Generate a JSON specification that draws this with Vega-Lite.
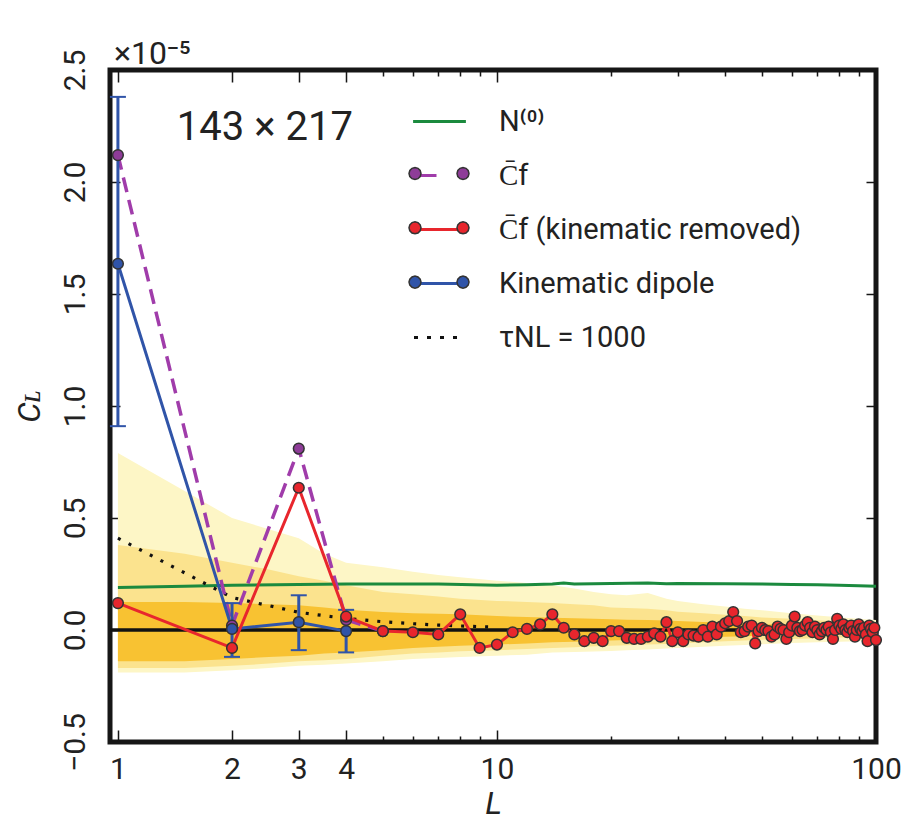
{
  "$schema": "https://vega.github.io/schema/vega-lite/v6.json",
  "width": 766,
  "height": 672,
  "autosize": {"type": "none"},
  "padding": {"left": 110, "top": 70, "right": 26, "bottom": 96},
  "background": "white",
  "config": {
    "view": {"stroke": "#161616", "strokeWidth": 5},
    "font": "Roboto",
    "axis": {"labelFont": "Roboto", "titleFont": "Roboto", "labelColor": "#222222", "titleColor": "#222222"}
  },
  "title": {"text": "×10⁻⁵", "anchor": "start", "frame": "group", "fontSize": 32, "fontWeight": "normal", "font": "Roboto", "color": "#222222", "offset": -22, "dx": 4},
  "datasets": {
    "bands": [
      {"L": 1, "hi3": 0.79, "hi2": 0.38, "hi1": 0.125, "lo1": -0.14, "lo2": -0.17, "lo3": -0.19},
      {"L": 1.5, "hi3": 0.62, "hi2": 0.34, "hi1": 0.125, "lo1": -0.14, "lo2": -0.17, "lo3": -0.19},
      {"L": 2, "hi3": 0.5, "hi2": 0.3, "hi1": 0.12, "lo1": -0.13, "lo2": -0.16, "lo3": -0.18},
      {"L": 2.5, "hi3": 0.45, "hi2": 0.27, "hi1": 0.115, "lo1": -0.12, "lo2": -0.15, "lo3": -0.17},
      {"L": 3, "hi3": 0.41, "hi2": 0.24, "hi1": 0.11, "lo1": -0.115, "lo2": -0.14, "lo3": -0.16},
      {"L": 3.5, "hi3": 0.34, "hi2": 0.22, "hi1": 0.1, "lo1": -0.105, "lo2": -0.135, "lo3": -0.155},
      {"L": 4, "hi3": 0.3, "hi2": 0.2, "hi1": 0.09, "lo1": -0.1, "lo2": -0.13, "lo3": -0.15},
      {"L": 5, "hi3": 0.28, "hi2": 0.17, "hi1": 0.08, "lo1": -0.09, "lo2": -0.115, "lo3": -0.14},
      {"L": 6, "hi3": 0.26, "hi2": 0.16, "hi1": 0.075, "lo1": -0.08, "lo2": -0.105, "lo3": -0.13},
      {"L": 7, "hi3": 0.245, "hi2": 0.15, "hi1": 0.072, "lo1": -0.075, "lo2": -0.1, "lo3": -0.125},
      {"L": 8, "hi3": 0.235, "hi2": 0.14, "hi1": 0.07, "lo1": -0.07, "lo2": -0.095, "lo3": -0.12},
      {"L": 10, "hi3": 0.22, "hi2": 0.13, "hi1": 0.062, "lo1": -0.065, "lo2": -0.09, "lo3": -0.115},
      {"L": 12, "hi3": 0.21, "hi2": 0.125, "hi1": 0.058, "lo1": -0.06, "lo2": -0.085, "lo3": -0.11},
      {"L": 14, "hi3": 0.2, "hi2": 0.12, "hi1": 0.055, "lo1": -0.055, "lo2": -0.08, "lo3": -0.1},
      {"L": 16, "hi3": 0.185, "hi2": 0.115, "hi1": 0.053, "lo1": -0.052, "lo2": -0.077, "lo3": -0.098},
      {"L": 18, "hi3": 0.17, "hi2": 0.11, "hi1": 0.05, "lo1": -0.05, "lo2": -0.073, "lo3": -0.096},
      {"L": 20, "hi3": 0.16, "hi2": 0.1, "hi1": 0.048, "lo1": -0.047, "lo2": -0.07, "lo3": -0.094},
      {"L": 22, "hi3": 0.155, "hi2": 0.098, "hi1": 0.046, "lo1": -0.045, "lo2": -0.068, "lo3": -0.09},
      {"L": 25, "hi3": 0.165, "hi2": 0.095, "hi1": 0.045, "lo1": -0.042, "lo2": -0.065, "lo3": -0.087},
      {"L": 28, "hi3": 0.14, "hi2": 0.088, "hi1": 0.042, "lo1": -0.04, "lo2": -0.062, "lo3": -0.083},
      {"L": 30, "hi3": 0.13, "hi2": 0.082, "hi1": 0.04, "lo1": -0.037, "lo2": -0.06, "lo3": -0.08},
      {"L": 35, "hi3": 0.115, "hi2": 0.075, "hi1": 0.036, "lo1": -0.034, "lo2": -0.055, "lo3": -0.075},
      {"L": 40, "hi3": 0.105, "hi2": 0.068, "hi1": 0.032, "lo1": -0.03, "lo2": -0.05, "lo3": -0.07},
      {"L": 45, "hi3": 0.095, "hi2": 0.062, "hi1": 0.029, "lo1": -0.028, "lo2": -0.047, "lo3": -0.067},
      {"L": 50, "hi3": 0.088, "hi2": 0.056, "hi1": 0.026, "lo1": -0.025, "lo2": -0.044, "lo3": -0.064},
      {"L": 60, "hi3": 0.075, "hi2": 0.05, "hi1": 0.023, "lo1": -0.022, "lo2": -0.04, "lo3": -0.058},
      {"L": 70, "hi3": 0.065, "hi2": 0.043, "hi1": 0.02, "lo1": -0.02, "lo2": -0.037, "lo3": -0.055},
      {"L": 80, "hi3": 0.057, "hi2": 0.038, "hi1": 0.018, "lo1": -0.018, "lo2": -0.034, "lo3": -0.052},
      {"L": 90, "hi3": 0.05, "hi2": 0.034, "hi1": 0.016, "lo1": -0.016, "lo2": -0.032, "lo3": -0.05},
      {"L": 100, "hi3": 0.045, "hi2": 0.03, "hi1": 0.015, "lo1": -0.015, "lo2": -0.03, "lo3": -0.048}
    ],
    "err": [
      {"L": 1, "lo": 0.91, "hi": 2.38},
      {"L": 2, "lo": -0.12, "hi": 0.12},
      {"L": 3, "lo": -0.09, "hi": 0.155},
      {"L": 4, "lo": -0.1, "hi": 0.09}
    ],
    "lines": [
      {"s": "N0", "L": 1, "v": 0.19}, {"s": "N0", "L": 1.5, "v": 0.195}, {"s": "N0", "L": 2, "v": 0.2}, {"s": "N0", "L": 3, "v": 0.203},
      {"s": "N0", "L": 4, "v": 0.205}, {"s": "N0", "L": 5, "v": 0.205}, {"s": "N0", "L": 7, "v": 0.205}, {"s": "N0", "L": 10, "v": 0.2},
      {"s": "N0", "L": 12, "v": 0.202}, {"s": "N0", "L": 14, "v": 0.205}, {"s": "N0", "L": 15, "v": 0.21}, {"s": "N0", "L": 16, "v": 0.205},
      {"s": "N0", "L": 18, "v": 0.207}, {"s": "N0", "L": 20, "v": 0.208}, {"s": "N0", "L": 25, "v": 0.21}, {"s": "N0", "L": 28, "v": 0.206},
      {"s": "N0", "L": 30, "v": 0.208}, {"s": "N0", "L": 40, "v": 0.207}, {"s": "N0", "L": 50, "v": 0.205}, {"s": "N0", "L": 60, "v": 0.203},
      {"s": "N0", "L": 70, "v": 0.202}, {"s": "N0", "L": 80, "v": 0.2}, {"s": "N0", "L": 90, "v": 0.198}, {"s": "N0", "L": 100, "v": 0.195},
      {"s": "tau", "L": 1, "v": 0.41}, {"s": "tau", "L": 2, "v": 0.145}, {"s": "tau", "L": 3, "v": 0.079}, {"s": "tau", "L": 4, "v": 0.051},
      {"s": "tau", "L": 5, "v": 0.037}, {"s": "tau", "L": 6, "v": 0.028}, {"s": "tau", "L": 7, "v": 0.022}, {"s": "tau", "L": 8, "v": 0.018},
      {"s": "tau", "L": 9, "v": 0.015}, {"s": "tau", "L": 10, "v": 0.013},
      {"s": "Cf", "L": 1, "v": 2.12}, {"s": "Cf", "L": 2, "v": 0.02}, {"s": "Cf", "L": 3, "v": 0.81}, {"s": "Cf", "L": 4, "v": 0.045}, {"s": "Cf", "L": 5, "v": -0.005},
      {"s": "Kin", "L": 1, "v": 1.635}, {"s": "Kin", "L": 2, "v": 0.005}, {"s": "Kin", "L": 3, "v": 0.035}, {"s": "Kin", "L": 4, "v": -0.005},
      {"s": "Cfk", "L": 1, "v": 0.12}, {"s": "Cfk", "L": 2, "v": -0.08}, {"s": "Cfk", "L": 3, "v": 0.635}, {"s": "Cfk", "L": 4, "v": 0.06},
      {"s": "Cfk", "L": 5, "v": -0.005}, {"s": "Cfk", "L": 6, "v": -0.01}, {"s": "Cfk", "L": 7, "v": -0.02}, {"s": "Cfk", "L": 8, "v": 0.07},
      {"s": "Cfk", "L": 9, "v": -0.08}, {"s": "Cfk", "L": 10, "v": -0.065}, {"s": "Cfk", "L": 11, "v": -0.01}, {"s": "Cfk", "L": 12, "v": 0.005},
      {"s": "Cfk", "L": 13, "v": 0.025}, {"s": "Cfk", "L": 14, "v": 0.07}, {"s": "Cfk", "L": 15, "v": 0.01}, {"s": "Cfk", "L": 16, "v": -0.02},
      {"s": "Cfk", "L": 17, "v": -0.05}, {"s": "Cfk", "L": 18, "v": -0.035}, {"s": "Cfk", "L": 19, "v": -0.05}, {"s": "Cfk", "L": 20, "v": -0.005},
      {"s": "Cfk", "L": 21, "v": -0.005}, {"s": "Cfk", "L": 22, "v": -0.035}, {"s": "Cfk", "L": 23, "v": -0.04}, {"s": "Cfk", "L": 24, "v": -0.04},
      {"s": "Cfk", "L": 25, "v": -0.03}, {"s": "Cfk", "L": 26, "v": -0.015}, {"s": "Cfk", "L": 27, "v": -0.03}, {"s": "Cfk", "L": 28, "v": 0.035},
      {"s": "Cfk", "L": 29, "v": -0.05}, {"s": "Cfk", "L": 30, "v": -0.01}, {"s": "Cfk", "L": 31, "v": -0.05}, {"s": "Cfk", "L": 32, "v": -0.02},
      {"s": "Cfk", "L": 33, "v": -0.025}, {"s": "Cfk", "L": 34, "v": -0.03}, {"s": "Cfk", "L": 35, "v": 0.0}, {"s": "Cfk", "L": 36, "v": -0.03},
      {"s": "Cfk", "L": 37, "v": 0.015}, {"s": "Cfk", "L": 38, "v": -0.02}, {"s": "Cfk", "L": 39, "v": 0.015}, {"s": "Cfk", "L": 40, "v": 0.03},
      {"s": "Cfk", "L": 41, "v": 0.04}, {"s": "Cfk", "L": 42, "v": 0.08}, {"s": "Cfk", "L": 43, "v": 0.04}, {"s": "Cfk", "L": 44, "v": -0.01},
      {"s": "Cfk", "L": 45, "v": -0.005}, {"s": "Cfk", "L": 46, "v": 0.015}, {"s": "Cfk", "L": 47, "v": 0.02}, {"s": "Cfk", "L": 48, "v": -0.06},
      {"s": "Cfk", "L": 49, "v": -0.005}, {"s": "Cfk", "L": 50, "v": 0.01}, {"s": "Cfk", "L": 51, "v": 0.0}, {"s": "Cfk", "L": 52, "v": -0.005},
      {"s": "Cfk", "L": 53, "v": -0.03}, {"s": "Cfk", "L": 54, "v": -0.02}, {"s": "Cfk", "L": 55, "v": 0.015}, {"s": "Cfk", "L": 56, "v": 0.005},
      {"s": "Cfk", "L": 57, "v": 0.0}, {"s": "Cfk", "L": 58, "v": -0.04}, {"s": "Cfk", "L": 59, "v": -0.01}, {"s": "Cfk", "L": 60, "v": 0.02},
      {"s": "Cfk", "L": 61, "v": 0.06}, {"s": "Cfk", "L": 62, "v": 0.01}, {"s": "Cfk", "L": 63, "v": -0.005}, {"s": "Cfk", "L": 64, "v": 0.0},
      {"s": "Cfk", "L": 65, "v": 0.02}, {"s": "Cfk", "L": 66, "v": 0.035}, {"s": "Cfk", "L": 67, "v": 0.01}, {"s": "Cfk", "L": 68, "v": -0.01},
      {"s": "Cfk", "L": 69, "v": 0.015}, {"s": "Cfk", "L": 70, "v": 0.0}, {"s": "Cfk", "L": 71, "v": -0.02}, {"s": "Cfk", "L": 72, "v": -0.005},
      {"s": "Cfk", "L": 73, "v": 0.01}, {"s": "Cfk", "L": 74, "v": 0.0}, {"s": "Cfk", "L": 75, "v": 0.015}, {"s": "Cfk", "L": 76, "v": -0.01},
      {"s": "Cfk", "L": 77, "v": -0.04}, {"s": "Cfk", "L": 78, "v": 0.0}, {"s": "Cfk", "L": 79, "v": 0.05}, {"s": "Cfk", "L": 80, "v": 0.02},
      {"s": "Cfk", "L": 81, "v": 0.005}, {"s": "Cfk", "L": 82, "v": 0.025}, {"s": "Cfk", "L": 83, "v": 0.0}, {"s": "Cfk", "L": 84, "v": -0.01},
      {"s": "Cfk", "L": 85, "v": 0.01}, {"s": "Cfk", "L": 86, "v": 0.02}, {"s": "Cfk", "L": 87, "v": -0.005}, {"s": "Cfk", "L": 88, "v": -0.03},
      {"s": "Cfk", "L": 89, "v": 0.0}, {"s": "Cfk", "L": 90, "v": 0.025}, {"s": "Cfk", "L": 91, "v": 0.005}, {"s": "Cfk", "L": 92, "v": -0.005},
      {"s": "Cfk", "L": 93, "v": 0.01}, {"s": "Cfk", "L": 94, "v": -0.02}, {"s": "Cfk", "L": 95, "v": -0.05}, {"s": "Cfk", "L": 96, "v": 0.02},
      {"s": "Cfk", "L": 97, "v": 0.005}, {"s": "Cfk", "L": 98, "v": -0.01}, {"s": "Cfk", "L": 99, "v": 0.01}, {"s": "Cfk", "L": 100, "v": -0.045}
    ]
  },
  "layer": [
    {
      "data": {"name": "bands"},
      "mark": {"type": "area", "fill": "#fdf6c6", "opacity": 1},
      "encoding": {
        "x": {
          "field": "L", "type": "quantitative",
          "scale": {"type": "log", "domain": [0.953, 100], "nice": false},
          "axis": {
            "values": [1, 2, 3, 4, 5, 6, 7, 8, 9, 10, 20, 30, 40, 50, 60, 70, 80, 90, 100],
            "labelExpr": "indexof([1, 2, 3, 4, 10, 100], datum.value) >= 0 ? format(datum.value, 'd') : ''",
            "labelFontSize": 30, "labelPadding": 12, "labelFlush": false, "labelOverlap": false, "labelBound": false,
            "ticks": false, "tickSize": 0, "domain": false,
            "grid": true, "gridColor": "#161616", "gridWidth": 1.5, "gridOpacity": 1,
            "gridDash": {"condition": {"test": "indexof([1, 2, 3, 4, 10, 100], datum.value) >= 0", "value": [12, 648]}, "value": [6, 660]},
            "title": "L", "titleFontSize": 32, "titleFontStyle": "italic", "titleFontWeight": "normal", "titlePadding": 4
          }
        },
        "y": {
          "field": "lo3", "type": "quantitative",
          "scale": {"domain": [-0.5, 2.5], "nice": false, "zero": false},
          "axis": {
            "values": [-0.5, 0, 0.5, 1, 1.5, 2, 2.5], "format": ".1f",
            "labelAngle": 270, "labelAlign": "center", "labelBaseline": "bottom",
            "labelFontSize": 30, "labelPadding": 20, "labelFlush": false, "labelOverlap": false, "labelBound": false,
            "ticks": false, "tickSize": 0, "domain": false,
            "grid": true, "gridColor": "#161616", "gridWidth": 1.5, "gridOpacity": 1, "gridDash": [10, 746],
            "title": "Cʟ", "titleFontSize": 32, "titleFontStyle": "italic", "titleFontWeight": "normal", "titlePadding": 14
          }
        },
        "y2": {"field": "hi3"}
      }
    },
    {
      "data": {"name": "bands"},
      "mark": {"type": "area", "fill": "#fbe38e", "opacity": 1},
      "encoding": {
        "x": {"field": "L", "type": "quantitative"},
        "y": {"field": "lo2", "type": "quantitative"},
        "y2": {"field": "hi2"}
      }
    },
    {
      "data": {"name": "bands"},
      "mark": {"type": "area", "fill": "#f8c232", "opacity": 1},
      "encoding": {
        "x": {"field": "L", "type": "quantitative"},
        "y": {"field": "lo1", "type": "quantitative"},
        "y2": {"field": "hi1"}
      }
    },
    {
      "data": {"values": [{}]},
      "mark": {"type": "rule", "color": "#111111", "strokeWidth": 3.5},
      "encoding": {"y": {"datum": 0}}
    },
    {
      "data": {"name": "lines"},
      "transform": [{"filter": "datum.s === 'N0'"}],
      "mark": {"type": "line", "strokeWidth": 3},
      "encoding": {
        "x": {"field": "L", "type": "quantitative"},
        "y": {"field": "v", "type": "quantitative"},
        "stroke": {
          "field": "s", "type": "nominal",
          "scale": {"domain": ["N0", "Cf", "Cfk", "Kin", "tau"], "range": ["#1b8a3e", "#a03caa", "#e8262d", "#3054a8", "#111111"]},
          "legend": {
            "orient": "none", "legendX": 298, "legendY": 20, "title": null, "padding": 0,
            "symbolSize": 3600, "symbolStrokeWidth": 3, "labelFontSize": 29, "labelFont": "Roboto", "labelColor": "#222222",
            "labelOffset": 28, "rowPadding": 7, "labelLimit": 500,
            "labelExpr": "datum.value === 'N0' ? 'N\u207d\u2070\u207e' : datum.value === 'Cf' ? 'C\u0304f' : datum.value === 'Cfk' ? 'C\u0304f (kinematic removed)' : datum.value === 'Kin' ? 'Kinematic dipole' : '\u03c4NL = 1000'",
            "encode": {
              "symbols": {
                "update": {
                  "shape": {"signal": "datum.value === 'Cf' ? 'M-0.8,0H-0.1' : datum.value === 'N0' ? 'M-0.88,0H0.88' : datum.value === 'tau' ? 'M-0.85,0H0.85' : 'M-0.8,0H0.8'"},
                  "strokeDash": {"signal": "datum.value === 'tau' ? [4, 9] : [1, 0]"},
                  "strokeWidth": {"value": 3},
                  "fill": {"value": "transparent"},
                  "opacity": {"value": 1}
                }
              }
            }
          }
        }
      }
    },
    {
      "data": {"name": "lines"},
      "transform": [{"filter": "datum.s === 'tau'"}],
      "mark": {"type": "line", "strokeWidth": 3.2, "strokeDash": [3, 9]},
      "encoding": {
        "x": {"field": "L", "type": "quantitative"},
        "y": {"field": "v", "type": "quantitative"},
        "stroke": {"field": "s", "type": "nominal"}
      }
    },
    {
      "data": {"name": "lines"},
      "transform": [{"filter": "datum.s === 'Cf'"}],
      "mark": {"type": "line", "strokeWidth": 3.5, "strokeDash": [15, 8]},
      "encoding": {
        "x": {"field": "L", "type": "quantitative"},
        "y": {"field": "v", "type": "quantitative"},
        "stroke": {"field": "s", "type": "nominal"}
      }
    },
    {
      "data": {"name": "err"},
      "mark": {"type": "rule", "color": "#3054a8", "strokeWidth": 3},
      "encoding": {
        "x": {"field": "L", "type": "quantitative"},
        "y": {"field": "lo", "type": "quantitative"},
        "y2": {"field": "hi"}
      }
    },
    {
      "data": {"name": "err"},
      "mark": {"type": "tick", "orient": "horizontal", "color": "#3054a8", "size": 16, "thickness": 2, "opacity": 1},
      "encoding": {
        "x": {"field": "L", "type": "quantitative"},
        "y": {"field": "lo", "type": "quantitative"}
      }
    },
    {
      "data": {"name": "err"},
      "mark": {"type": "tick", "orient": "horizontal", "color": "#3054a8", "size": 16, "thickness": 2, "opacity": 1},
      "encoding": {
        "x": {"field": "L", "type": "quantitative"},
        "y": {"field": "hi", "type": "quantitative"}
      }
    },
    {
      "data": {"name": "lines"},
      "transform": [{"filter": "datum.s === 'Kin'"}],
      "mark": {"type": "line", "strokeWidth": 3},
      "encoding": {
        "x": {"field": "L", "type": "quantitative"},
        "y": {"field": "v", "type": "quantitative"},
        "stroke": {"field": "s", "type": "nominal"}
      }
    },
    {
      "data": {"name": "lines"},
      "transform": [{"filter": "datum.s === 'Cfk'"}],
      "mark": {"type": "line", "strokeWidth": 3},
      "encoding": {
        "x": {"field": "L", "type": "quantitative"},
        "y": {"field": "v", "type": "quantitative"},
        "stroke": {"field": "s", "type": "nominal"}
      }
    },
    {
      "data": {"name": "lines"},
      "transform": [{"filter": "datum.s === 'Cf' || datum.s === 'Kin' || datum.s === 'Cfk'"}],
      "mark": {"type": "point", "filled": true, "size": 115, "stroke": "#333333", "strokeWidth": 1.5, "opacity": 1},
      "encoding": {
        "x": {"field": "L", "type": "quantitative"},
        "y": {"field": "v", "type": "quantitative"},
        "fill": {
          "field": "s", "type": "nominal",
          "scale": {"domain": ["Cf", "Cfk", "Kin"], "range": ["#8e3c98", "#e8262d", "#3054a8"]},
          "legend": {
            "orient": "none", "legendX": 298, "legendY": 72.5, "title": null, "padding": 0,
            "symbolSize": 3600,
            "symbolType": "M-0.6,0L-0.627,0.1L-0.7,0.173L-0.8,0.2L-0.9,0.173L-0.973,0.1L-1,0L-0.973,-0.1L-0.9,-0.173L-0.8,-0.2L-0.7,-0.173L-0.627,-0.1ZM1,0L0.973,0.1L0.9,0.173L0.8,0.2L0.7,0.173L0.627,0.1L0.6,0L0.627,-0.1L0.7,-0.173L0.8,-0.2L0.9,-0.173L0.973,-0.1Z",
            "symbolStrokeWidth": 1.5, "symbolStrokeColor": "#333333",
            "labelFontSize": 29, "labelFont": "Roboto", "labelExpr": "''", "labelOffset": 28, "rowPadding": 8.3, "labelLimit": 500,
            "encode": {
              "symbols": {
                "update": {
                  "stroke": {"value": "#333333"},
                  "strokeWidth": {"value": 1.5},
                  "opacity": {"value": 1}
                }
              }
            }
          }
        }
      }
    },
    {
      "data": {"values": [{}]},
      "mark": {"type": "text", "text": "143 × 217", "align": "left", "baseline": "middle", "fontSize": 40, "font": "Roboto", "color": "#222222"},
      "encoding": {"x": {"datum": 1.43}, "y": {"datum": 2.24}}
    }
  ]
}
